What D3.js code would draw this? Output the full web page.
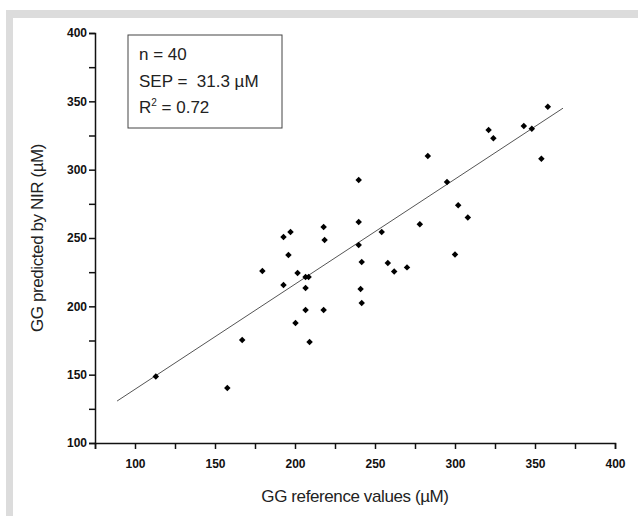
<!DOCTYPE html>
<html>
<head>
<meta charset="utf-8">
<script src="https://cdn.jsdelivr.net/npm/d3@7"></script>
<style>
body { margin: 0; background: #fff; }
text { font-family: "Liberation Sans", Arial, sans-serif; }
</style>
</head>
<body>
<script>
/******************** data ********************/

var refValues = [113, 157.7, 167, 179.6, 192.8, 197.2, 195.9, 192.8, 201.6, 206.6,
                 208.5, 206.6, 200.3, 206.6, 209.1, 217.9, 218.5, 217.9, 239.8, 239.8,
                 239.8, 241.7, 241, 241.7, 254.2, 258, 262, 270, 278, 283,
                 295, 300, 302, 308, 321, 324, 343, 348, 354, 358];
var nirValues = [148.6, 140.2, 175.4, 225.8, 250.7, 254.4, 237.6, 215.6, 224.4, 221.5,
                 221.5, 213.4, 187.8, 197.3, 173.9, 258, 248.5, 197.3, 292.4, 261.7,
                 244.9, 232.4, 212.7, 202.4, 254.4, 231.7, 225.5, 228.5, 260, 310,
                 291, 238, 274, 265, 329, 323, 332, 330, 308, 346];

// regression line end points
var fitX = [88.8, 367.5];
var fitY = [130.7, 345];

var xTicks = [100, 150, 200, 250, 300, 350, 400];
var yTicks = [100, 150, 200, 250, 300, 350, 400];

var statLines = ["n = 40", "SEP =  31.3 \u00b5M"];

/******************** svg + frame ********************/

var W = 638, H = 516;
var svg = d3.select("body").append("svg").attr("width", W).attr("height", H);

svg.append("rect").attr("x", 6).attr("y", 10).attr("width", W - 6).attr("height", H - 10).attr("fill", "#dcdcdc");
svg.append("rect").attr("x", 13).attr("y", 18).attr("width", W - 13).attr("height", H - 18).attr("fill", "#fff");

var x = d3.scaleLinear().domain([75, 400]).range([95, 615]);
var y = d3.scaleLinear().domain([100, 400]).range([443, 33]);

/******************** axes ********************/

var xAxis = d3.axisBottom(x).tickValues(d3.range(75, 401, 25)).tickSize(6)
    .tickFormat(function (d) { return xTicks.indexOf(d) >= 0 ? d : ""; });
var yAxis = d3.axisLeft(y).tickValues(d3.range(100, 401, 25)).tickSize(6)
    .tickFormat(function (d) { return yTicks.indexOf(d) >= 0 ? d : ""; });

var gx = svg.append("g").attr("transform", "translate(0,443)").call(xAxis);
var gy = svg.append("g").attr("transform", "translate(95,0)").call(yAxis);

[gx, gy].forEach(function (g) {
    g.select(".domain").attr("stroke", "#111").attr("stroke-width", 1.5);
    g.selectAll(".tick line").attr("stroke", "#111").attr("stroke-width", 1.5);
    g.selectAll(".tick text").attr("fill", "#111").style("font-size", "12px").style("font-weight", "bold");
});
gx.selectAll(".tick text").attr("dy", "1.3em");
gy.selectAll(".tick text").attr("x", -8);

svg.append("text").attr("x", 355).attr("y", 502).attr("text-anchor", "middle")
    .style("font-size", "17px").style("letter-spacing", "-0.4px").attr("fill", "#222")
    .text("GG reference values (\u00b5M)");

svg.append("text").attr("transform", "translate(43,238) rotate(-90)").attr("text-anchor", "middle")
    .style("font-size", "17px").style("letter-spacing", "-0.4px").attr("fill", "#222")
    .text("GG predicted by NIR (\u00b5M)");

/******************** fit line + points ********************/

svg.append("line")
    .attr("x1", x(fitX[0])).attr("y1", y(fitY[0]))
    .attr("x2", x(fitX[1])).attr("y2", y(fitY[1]))
    .attr("stroke", "#555").attr("stroke-width", 1);

var marker = d3.symbol().type(d3.symbolSquare).size(21);
svg.append("g").selectAll("path")
    .data(refValues.map(function (d, i) { return [d, nirValues[i]]; }))
    .join("path")
    .attr("d", marker)
    .attr("transform", function (d) { return "translate(" + x(d[0]) + "," + y(d[1]) + ") rotate(45)"; })
    .attr("fill", "#000");

/******************** stats box ********************/

svg.append("rect").attr("x", 128).attr("y", 35).attr("width", 154).attr("height", 93)
    .attr("fill", "#fff").attr("stroke", "#444").attr("stroke-width", 1);

var box = svg.append("g").attr("fill", "#222").style("font-size", "17px");
statLines.forEach(function (s, i) {
    box.append("text").attr("x", 139).attr("y", 60 + i * 26.5)
        .style("white-space", "pre").text(s);
});
var r2 = box.append("text").attr("x", 139).attr("y", 113);
r2.append("tspan").text("R");
r2.append("tspan").attr("dy", -7).style("font-size", "10px").text("2");
r2.append("tspan").attr("dy", 7).text(" = 0.72");
</script>
</body>
</html>
